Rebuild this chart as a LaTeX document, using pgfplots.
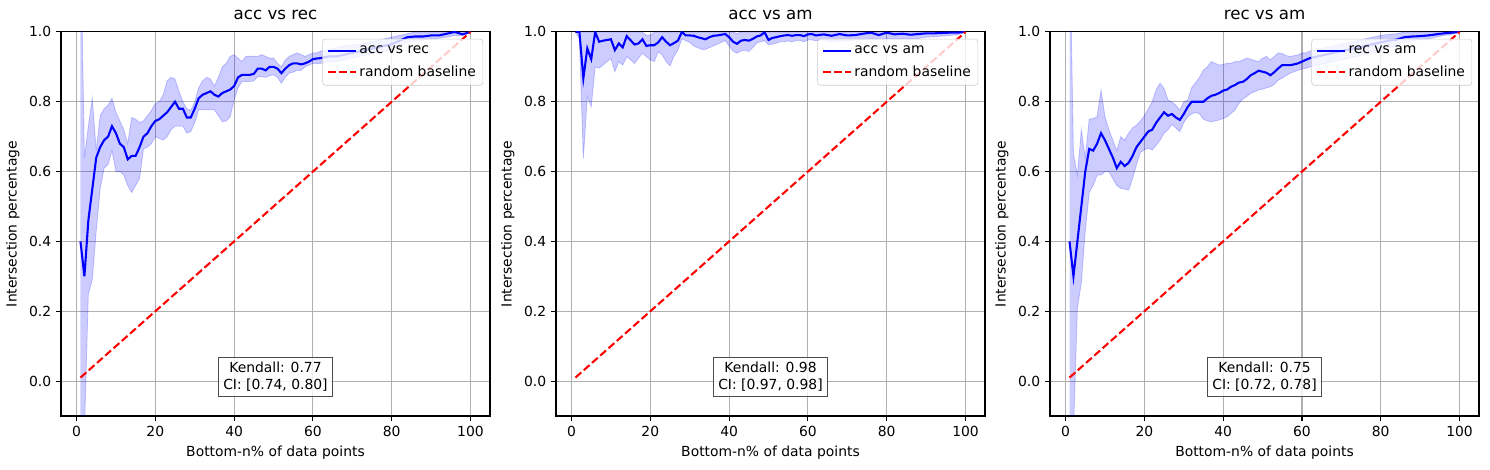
\documentclass[border=0pt]{standalone}
\usepackage{fontspec}
\setmainfont{DejaVu Sans}
\usepackage{pgfplots}
\usepackage{pgfplotstable}
\pgfplotsset{compat=1.18}
\usepgfplotslibrary{fillbetween}

% x = bottom-n%, m = mean intersection, u/l = band
\pgfplotstableread{
x m u l
1 0.40 1.30 -0.50
2 0.30 0.64 -0.15
3 0.46 0.73 0.25
4 0.55 0.81 0.29
5 0.64 0.66 0.43
6 0.67 0.76 0.55
7 0.69 0.78 0.61
8 0.70 0.79 0.62
9 0.73 0.81 0.66
10 0.71 0.77 0.60
11 0.68 0.745 0.60
12 0.67 0.72 0.59
13 0.635 0.68 0.56
14 0.645 0.755 0.54
15 0.645 0.75 0.56
16 0.67 0.74 0.58
17 0.70 0.745 0.665
18 0.71 0.76 0.67
19 0.73 0.775 0.68
20 0.745 0.795 0.70
21 0.75 0.80 0.695
22 0.76 0.82 0.69
23 0.77 0.86 0.70
24 0.785 0.87 0.72
25 0.80 0.865 0.73
26 0.78 0.83 0.73
27 0.78 0.80 0.73
28 0.755 0.78 0.71
29 0.755 0.775 0.715
30 0.78 0.80 0.74
31 0.81 0.84 0.777
32 0.82 0.86 0.777
33 0.825 0.87 0.777
34 0.83 0.865 0.777
35 0.82 0.845 0.777
36 0.815 0.87 0.76
37 0.825 0.90 0.743
38 0.83 0.91 0.745
39 0.835 0.93 0.757
40 0.845 0.935 0.805
41 0.87 0.925 0.84
42 0.877 0.915 0.858
43 0.877 0.93 0.858
44 0.877 0.93 0.858
45 0.88 0.93 0.86
46 0.895 0.93 0.872
47 0.895 0.935 0.872
48 0.89 0.93 0.87
49 0.90 0.925 0.875
50 0.90 0.925 0.877
51 0.895 0.91 0.87
52 0.882 0.90 0.853
53 0.895 0.92 0.87
54 0.905 0.93 0.882
55 0.91 0.935 0.885
56 0.91 0.94 0.89
57 0.907 0.935 0.89
58 0.91 0.93 0.90
59 0.915 0.935 0.905
60 0.922 0.94 0.91
61 0.924 0.94 0.91
62 0.925 0.945 0.91
64 0.93 0.95 0.915
66 0.93 0.955 0.915
68 0.935 0.96 0.92
70 0.94 0.963 0.925
72 0.945 0.965 0.93
74 0.95 0.97 0.935
76 0.955 0.975 0.94
78 0.96 0.98 0.945
80 0.965 0.985 0.95
82 0.975 0.99 0.96
84 0.985 0.995 0.97
86 0.987 1.00 0.975
88 0.987 1.00 0.977
90 0.99 1.00 0.98
92 0.99 1.00 0.982
94 0.995 1.00 0.985
96 1.00 1.00 0.99
98 0.993 1.00 0.99
100 1.00 1.00 1.00
}\accrec

\pgfplotstableread{
x m u l
1 1.00 1.00 1.00
2 1.00 1.00 0.98
3 0.867 1.00 0.637
4 0.953 1.00 0.815
5 0.922 1.00 0.786
6 1.00 1.00 0.90
7 0.972 1.00 0.896
8 0.975 1.00 0.905
9 0.977 1.00 0.915
10 0.979 1.00 0.924
11 0.948 1.00 0.886
12 0.967 1.00 0.915
13 0.956 1.00 0.905
14 0.988 1.00 0.929
15 0.976 1.00 0.92
16 0.964 1.00 0.91
17 0.967 1.00 0.925
18 0.979 1.00 0.939
19 0.96 0.99 0.929
20 0.962 0.99 0.92
21 0.962 1.00 0.915
22 0.97 1.00 0.943
23 0.985 1.00 0.935
24 0.972 1.00 0.915
25 0.962 1.00 0.903
26 0.968 1.00 0.93
27 0.975 1.00 0.948
28 1.00 1.00 0.98
29 0.99 1.00 0.975
30 0.99 1.00 0.97
31 0.989 1.00 0.96
32 0.985 1.00 0.955
33 0.982 1.00 0.95
34 0.979 1.00 0.95
35 0.985 1.00 0.955
36 0.989 1.00 0.96
37 0.99 1.00 0.965
38 0.992 1.00 0.97
39 0.994 1.00 0.975
40 0.985 1.00 0.96
41 0.972 1.00 0.945
42 0.966 0.995 0.939
43 0.975 1.00 0.945
44 0.977 1.00 0.948
45 0.975 1.00 0.944
46 0.98 1.00 0.955
47 0.987 1.00 0.968
48 0.99 1.00 0.972
49 0.999 1.00 0.975
50 0.977 1.00 0.963
51 0.983 1.00 0.965
52 0.985 1.00 0.968
53 0.988 1.00 0.972
54 0.99 1.00 0.972
55 0.991 1.00 0.974
56 0.989 1.00 0.972
57 0.991 1.00 0.975
58 0.991 1.00 0.975
59 0.988 1.00 0.972
60 0.993 1.00 0.977
61 0.994 1.00 0.977
62 0.99 1.00 0.975
64 0.993 1.00 0.977
66 0.989 1.00 0.972
68 0.994 1.00 0.975
70 0.99 1.00 0.975
72 0.991 1.00 0.977
74 0.995 1.00 0.978
76 0.998 1.00 0.98
78 0.991 1.00 0.978
80 0.998 1.00 0.981
82 0.993 1.00 0.98
84 0.995 1.00 0.981
86 0.992 1.00 0.98
88 0.994 1.00 0.981
90 0.996 1.00 0.985
92 0.996 1.00 0.986
94 0.997 1.00 0.988
96 0.998 1.00 0.99
98 0.998 1.00 0.992
100 1.00 1.00 1.00
}\accam

\pgfplotstableread{
x m u l
1 0.40 1.30 -0.50
2 0.30 0.65 -0.15
3 0.40 0.59 0.21
4 0.50 0.72 0.28
5 0.60 0.64 0.43
6 0.665 0.75 0.54
7 0.66 0.752 0.56
8 0.68 0.757 0.59
9 0.71 0.834 0.59
10 0.69 0.757 0.60
11 0.665 0.72 0.60
12 0.64 0.69 0.58
13 0.61 0.66 0.56
14 0.628 0.70 0.552
15 0.616 0.69 0.55
16 0.625 0.71 0.547
17 0.645 0.725 0.58
18 0.67 0.733 0.62
19 0.685 0.745 0.655
20 0.70 0.76 0.662
21 0.715 0.78 0.667
22 0.72 0.80 0.662
23 0.74 0.835 0.675
24 0.755 0.853 0.69
25 0.77 0.838 0.71
26 0.76 0.805 0.72
27 0.765 0.80 0.735
28 0.755 0.79 0.725
29 0.748 0.776 0.714
30 0.765 0.80 0.74
31 0.785 0.805 0.757
32 0.80 0.84 0.765
33 0.80 0.855 0.77
34 0.80 0.87 0.765
35 0.80 0.891 0.75
36 0.81 0.90 0.745
37 0.817 0.915 0.743
38 0.82 0.91 0.745
39 0.825 0.905 0.748
40 0.832 0.907 0.752
41 0.835 0.91 0.757
42 0.843 0.91 0.767
43 0.848 0.915 0.776
44 0.855 0.915 0.795
45 0.857 0.92 0.808
46 0.865 0.925 0.815
47 0.876 0.922 0.824
48 0.882 0.918 0.829
49 0.889 0.915 0.834
50 0.886 0.925 0.836
51 0.883 0.93 0.84
52 0.876 0.92 0.843
53 0.885 0.93 0.85
54 0.896 0.94 0.862
55 0.905 0.938 0.868
56 0.905 0.932 0.875
57 0.905 0.93 0.882
58 0.907 0.932 0.886
59 0.91 0.934 0.89
60 0.915 0.94 0.894
61 0.92 0.94 0.896
62 0.925 0.945 0.90
64 0.93 0.95 0.905
66 0.935 0.955 0.91
68 0.94 0.96 0.915
70 0.945 0.965 0.92
72 0.95 0.97 0.925
74 0.955 0.975 0.93
76 0.96 0.98 0.935
78 0.965 0.985 0.94
80 0.97 0.99 0.945
82 0.975 0.993 0.955
84 0.978 0.995 0.96
86 0.985 1.00 0.97
88 0.987 1.00 0.975
90 0.988 1.00 0.978
92 0.99 1.00 0.98
94 0.993 1.00 0.985
96 0.996 1.00 0.99
98 0.998 1.00 0.993
100 1.00 1.00 1.00
}\recam

\pgfplotsset{
  panel/.style={
    anchor=south west,
    scale only axis, width=308.9pt, height=276.5pt,
    xmin=-3.95, xmax=104.95, ymin=-0.1, ymax=1.0,
    xtick={0,20,40,60,80,100},
    ytick={0,0.2,0.4,0.6,0.8,1.0},
    yticklabel style={/pgf/number format/.cd, fixed, fixed zerofill, precision=1},
    /pgf/number format/assume math mode=true,
    grid=major,
    grid style={color=black!31, line width=0.8pt},
    axis line style={line width=0.8pt},
    every tick/.style={black, line width=0.8pt},
    major tick length=3.5pt, tick align=outside,
    xtick pos=bottom, ytick pos=left,
    tick label style={font=\fontsize{10}{12}\selectfont},
    label style={font=\fontsize{10}{12}\selectfont},
    title style={font=\fontsize{12}{14}\selectfont, yshift=-1pt},
    xlabel={Bottom-n\% of data points},
    ylabel={Intersection percentage},
    legend cell align=left,
    legend style={at={(0.984,0.982)}, anchor=north east,
      draw=black!20, fill=white, fill opacity=0.8, text opacity=1,
      rounded corners=2pt, font=\fontsize{10}{12}\selectfont,
      inner sep=3pt, row sep=3pt},
    legend image code/.code={\draw[#1] (0pt,0pt) -- (20pt,0pt);},
  },
  band/.style={blue, opacity=0.2, line width=0.6pt, forget plot},
  meanline/.style={blue, line width=1.5pt},
  randline/.style={red, line width=1.5pt, dash pattern=on 5.55pt off 2.4pt},
}
\tikzset{
  kbox/.style={draw=black!70, fill=white, fill opacity=0.8, text opacity=1,
    align=center, font=\fontsize{10}{12}\selectfont, inner sep=3.5pt},
}

\begin{document}
\begin{tikzpicture}

% panel 1
\begin{axis}[panel, at={(43.9pt,38.2pt)}, title={acc vs rec}]
\addplot[band, name path=u1] table[x=x, y=u] {\accrec};
\addplot[band, name path=l1] table[x=x, y=l] {\accrec};
\addplot[fill=blue, fill opacity=0.2, draw=none, forget plot] fill between[of=u1 and l1];
\addplot[meanline] table[x=x, y=m] {\accrec};
\addlegendentry{acc vs rec}
\addplot[randline] coordinates {(1,0.01) (100,1.00)};
\addlegendentry{random baseline}
\node[kbox] at (rel axis cs:0.5,0.1016) {Kendall: 0.77\\CI: [0.74, 0.80]};
\end{axis}

% panel 2
\begin{axis}[panel, at={(400.3pt,38.2pt)}, title={acc vs am}]
\addplot[band, name path=u2] table[x=x, y=u] {\accam};
\addplot[band, name path=l2] table[x=x, y=l] {\accam};
\addplot[fill=blue, fill opacity=0.2, draw=none, forget plot] fill between[of=u2 and l2];
\addplot[meanline] table[x=x, y=m] {\accam};
\addlegendentry{acc vs am}
\addplot[randline] coordinates {(1,0.01) (100,1.00)};
\addlegendentry{random baseline}
\node[kbox] at (rel axis cs:0.5,0.1016) {Kendall: 0.98\\CI: [0.97, 0.98]};
\end{axis}

% panel 3
\begin{axis}[panel, at={(756.0pt,38.2pt)}, title={rec vs am}]
\addplot[band, name path=u3] table[x=x, y=u] {\recam};
\addplot[band, name path=l3] table[x=x, y=l] {\recam};
\addplot[fill=blue, fill opacity=0.2, draw=none, forget plot] fill between[of=u3 and l3];
\addplot[meanline] table[x=x, y=m] {\recam};
\addlegendentry{rec vs am}
\addplot[randline] coordinates {(1,0.01) (100,1.00)};
\addlegendentry{random baseline}
\node[kbox] at (rel axis cs:0.5,0.1016) {Kendall: 0.75\\CI: [0.72, 0.78]};
\end{axis}

\path (0,0) rectangle (1072.8pt,337.7pt);
\end{tikzpicture}
\end{document}
